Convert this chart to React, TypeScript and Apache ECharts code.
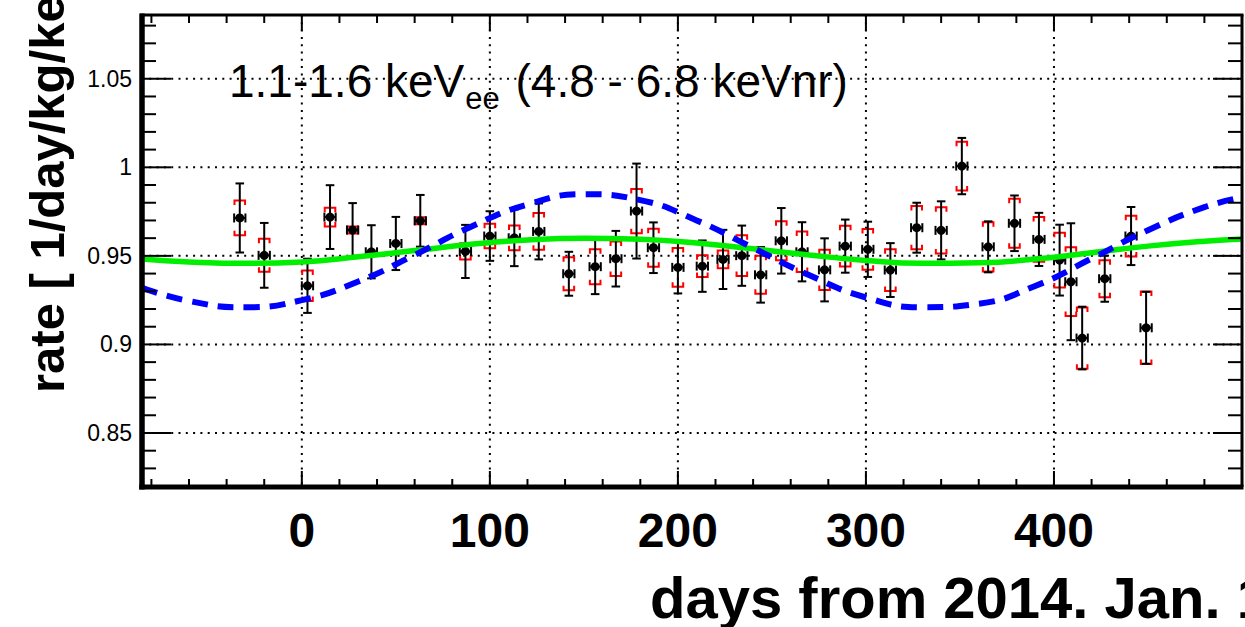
import React, { useEffect, useRef } from "react";
import * as echarts from "echarts";

// ---------- data ----------
const days = [-33, -20, 3, 15, 27, 37, 50, 63, 87, 100, 113, 126, 142, 156, 167, 178, 187, 200, 213, 224, 234, 244, 255, 266, 278, 289, 301, 313, 327, 340, 351, 365, 379, 392, 403, 409, 415, 427, 441, 449];
const rates = [0.9714, 0.9503, 0.9331, 0.9719, 0.9646, 0.9523, 0.957, 0.9698, 0.9525, 0.9612, 0.9602, 0.9638, 0.9399, 0.9439, 0.9484, 0.9753, 0.9546, 0.9435, 0.9442, 0.948, 0.9501, 0.9393, 0.9585, 0.9523, 0.9421, 0.9555, 0.9537, 0.942, 0.9659, 0.9644, 1.0007, 0.9551, 0.9684, 0.9593, 0.9476, 0.9354, 0.9036, 0.9371, 0.9612, 0.9094];
const statErr = [0.0195, 0.0183, 0.0153, 0.018, 0.0152, 0.015, 0.015, 0.0146, 0.015, 0.014, 0.016, 0.0158, 0.0124, 0.0155, 0.0157, 0.0268, 0.0143, 0.0147, 0.0145, 0.0167, 0.017, 0.0157, 0.0185, 0.0167, 0.0178, 0.015, 0.0156, 0.0152, 0.0141, 0.0164, 0.0159, 0.0144, 0.0157, 0.015, 0.02, 0.033, 0.0177, 0.013, 0.0164, 0.0203];
const systErr = [0.0098, 0.0093, 0.0086, 0.0053, 0.002, 0, 0, 0.002, 0.0046, 0.0069, 0.007, 0.0104, 0.0093, 0.0099, 0.0097, 0.0125, 0.0107, 0.011, 0.0062, 0.005, 0.0115, 0.0107, 0.011, 0.0114, 0.0113, 0.0115, 0.0115, 0.0118, 0.0122, 0.0131, 0.0138, 0.0139, 0.0138, 0.0126, 0.0155, 0.0194, 0.0173, 0.0104, 0.0115, 0.0205];
const dayErr = 3;

const fitDays = [-85, -60, -30, 0, 30, 60, 90, 120, 150, 180, 210, 240, 270, 300, 330, 360, 390, 420, 450, 480, 500];
const greenFit = [0.9482, 0.9466, 0.9458, 0.9466, 0.9495, 0.953, 0.9565, 0.959, 0.96, 0.9594, 0.9573, 0.954, 0.9505, 0.9474, 0.9458, 0.9461, 0.9482, 0.9518, 0.9555, 0.9583, 0.9595];
const blueFit = [0.932, 0.9245, 0.921, 0.925, 0.9355, 0.9505, 0.9665, 0.979, 0.9848, 0.9815, 0.97, 0.9545, 0.939, 0.9265, 0.921, 0.923, 0.933, 0.9485, 0.9645, 0.9775, 0.983];

const xMajorTicks = [0, 100, 200, 300, 400];
const xTickLabels = ["0", "100", "200", "300", "400"];
const xMinorTicks = [-80, -60, -40, -20, 20, 40, 60, 80, 120, 140, 160, 180, 220, 240, 260, 280, 320, 340, 360, 380, 420, 440, 460, 480];
const yMajorTicks = [0.85, 0.9, 0.95, 1, 1.05];
const yTickLabels = ["0.85", "0.9", "0.95", "1", "1.05"];
const yMinorTicks = [0.83, 0.84, 0.86, 0.87, 0.88, 0.89, 0.91, 0.92, 0.93, 0.94, 0.96, 0.97, 0.98, 0.99, 1.01, 1.02, 1.03, 1.04, 1.06, 1.07, 1.08];

const X_MIN = -85;
const X_MAX = 500;
const Y_MIN = 0.8195;
const Y_MAX = 1.086;

const xTitle = "days from 2014. Jan. 1";
const yTitle = "rate [ 1/day/kg/keV ]";
const noteMain = "1.1-1.6 keV";
const noteSub = "ee";
const noteTail = " (4.8 - 6.8 keVnr)";

const FONT = '"Liberation Sans", Arial, Helvetica, sans-serif';

function measure(text: string, font: string): number {
  const c = document.createElement("canvas").getContext("2d");
  if (!c) return text.length * 20;
  c.font = font;
  return c.measureText(text).width;
}

function renderGrid(params: any, api: any) {
  const cs = params.coordSys;
  const top = cs.y, bottom = cs.y + cs.height, left = cs.x, right = cs.x + cs.width;
  const dot = { stroke: "#000", lineWidth: 2, lineDash: [2, 5.3] };
  const children: any[] = [];
  xMajorTicks.forEach((v) => {
    const px = api.coord([v, Y_MIN])[0];
    children.push({ type: "line", shape: { x1: px, y1: top, x2: px, y2: bottom }, style: dot });
  });
  yMajorTicks.forEach((v) => {
    const py = api.coord([X_MIN, v])[1];
    children.push({ type: "line", shape: { x1: left, y1: py, x2: right, y2: py }, style: dot });
  });
  return { type: "group", children };
}

function renderFrame(params: any, api: any) {
  const cs = params.coordSys;
  const top = cs.y, bottom = cs.y + cs.height, left = cs.x, right = cs.x + cs.width;
  const tick = { stroke: "#000", lineWidth: 2 };
  const children: any[] = [];
  const yMajLen = 29, yMinLen = 14, xMajLen = 16, xMinLen = 8;
  xMajorTicks.forEach((v, i) => {
    const px = api.coord([v, Y_MIN])[0];
    children.push({ type: "line", shape: { x1: px, y1: bottom, x2: px, y2: bottom - xMajLen }, style: tick });
    children.push({ type: "line", shape: { x1: px, y1: top, x2: px, y2: top + xMajLen }, style: tick });
    children.push({
      type: "text",
      x: px,
      y: 530,
      style: { text: xTickLabels[i], font: `bold 48px ${FONT}`, fill: "#000", align: "center", verticalAlign: "middle", textAlign: "center", textVerticalAlign: "middle" },
    });
  });
  xMinorTicks.forEach((v) => {
    const px = api.coord([v, Y_MIN])[0];
    children.push({ type: "line", shape: { x1: px, y1: bottom, x2: px, y2: bottom - xMinLen }, style: tick });
    children.push({ type: "line", shape: { x1: px, y1: top, x2: px, y2: top + xMinLen }, style: tick });
  });
  yMajorTicks.forEach((v, i) => {
    const py = api.coord([X_MIN, v])[1];
    children.push({ type: "line", shape: { x1: left, y1: py, x2: left + yMajLen, y2: py }, style: tick });
    children.push({ type: "line", shape: { x1: right, y1: py, x2: right - yMajLen, y2: py }, style: tick });
    children.push({
      type: "text",
      x: 132,
      y: py,
      style: { text: yTickLabels[i], font: `23px ${FONT}`, fill: "#000", align: "right", verticalAlign: "middle", textAlign: "right", textVerticalAlign: "middle" },
    });
  });
  yMinorTicks.forEach((v) => {
    const py = api.coord([X_MIN, v])[1];
    children.push({ type: "line", shape: { x1: left, y1: py, x2: left + yMinLen, y2: py }, style: tick });
    children.push({ type: "line", shape: { x1: right, y1: py, x2: right - yMinLen, y2: py }, style: tick });
  });
  // frame
  children.push({ type: "line", shape: { x1: left - 2, y1: top, x2: right + 1.5, y2: top }, style: { stroke: "#000", lineWidth: 3 } });
  children.push({ type: "line", shape: { x1: right, y1: top, x2: right, y2: bottom }, style: { stroke: "#000", lineWidth: 3 } });
  children.push({ type: "line", shape: { x1: left - 2.75, y1: bottom, x2: right + 1.5, y2: bottom }, style: { stroke: "#000", lineWidth: 5 } });
  children.push({ type: "line", shape: { x1: left, y1: top - 1.5, x2: left, y2: bottom + 2.5 }, style: { stroke: "#000", lineWidth: 5.5 } });
  return { type: "group", children };
}

function renderPoint(params: any, api: any) {
  const x = api.value(0), y = api.value(1), st = api.value(2), sy = api.value(3);
  const c = api.coord([x, y]);
  const cx = c[0], cy = c[1];
  const children: any[] = [];
  if (sy > 0) {
    const t = api.coord([x, y + sy])[1];
    const b = api.coord([x, y - sy])[1];
    const w = 5.3, leg = 4.5;
    const red = { stroke: "#ff0000", lineWidth: 2, fill: "none" };
    children.push({ type: "polyline", shape: { points: [[cx - w, t + leg], [cx - w, t], [cx + w, t], [cx + w, t + leg]] }, style: red });
    children.push({ type: "polyline", shape: { points: [[cx - w, b - leg], [cx - w, b], [cx + w, b], [cx + w, b - leg]] }, style: red });
  }
  const blk = { stroke: "#000", lineWidth: 2 };
  const t = api.coord([x, y + st])[1];
  const b = api.coord([x, y - st])[1];
  const xl = api.coord([x - dayErr, y])[0];
  const xr = api.coord([x + dayErr, y])[0];
  const cw = 4.3, ch = 4.5;
  children.push({ type: "line", shape: { x1: cx, y1: t, x2: cx, y2: b }, style: blk });
  children.push({ type: "line", shape: { x1: cx - cw, y1: t, x2: cx + cw, y2: t }, style: blk });
  children.push({ type: "line", shape: { x1: cx - cw, y1: b, x2: cx + cw, y2: b }, style: blk });
  children.push({ type: "line", shape: { x1: xl, y1: cy, x2: xr, y2: cy }, style: blk });
  children.push({ type: "line", shape: { x1: xl, y1: cy - ch, x2: xl, y2: cy + ch }, style: blk });
  children.push({ type: "line", shape: { x1: xr, y1: cy - ch, x2: xr, y2: cy + ch }, style: blk });
  children.push({ type: "circle", shape: { cx, cy, r: 4.5 }, style: { fill: "#000" } });
  return { type: "group", children };
}

export default function App() {
  const ref = useRef<HTMLDivElement>(null);
  useEffect(() => {
    if (!ref.current) return;
    const chart = echarts.init(ref.current, undefined, { renderer: "svg" });

    const mainFont = `46px ${FONT}`;
    const subFont = `31px ${FONT}`;
    const noteX = 229;
    const wMain = measure(noteMain, mainFont);
    const wSub = measure(noteSub, subFont);

    const pointData = days.map((d, i) => [d, rates[i], statErr[i], systErr[i]]);

    chart.setOption({
      animation: false,
      backgroundColor: "#ffffff",
      grid: { left: 142, top: 15, width: 1100, height: 472 },
      xAxis: { type: "value", min: X_MIN, max: X_MAX, show: false, splitLine: { show: false } },
      yAxis: { type: "value", min: Y_MIN, max: Y_MAX, show: false, splitLine: { show: false } },
      series: [
        { type: "custom", name: "grid", coordinateSystem: "cartesian2d", data: [[100, 0.9]], renderItem: renderGrid, silent: true, z: 1 },
        { type: "custom", name: "data", coordinateSystem: "cartesian2d", data: pointData, encode: { x: 0, y: 1 }, renderItem: renderPoint, silent: true, z: 2 },
        {
          type: "line",
          name: "green",
          data: fitDays.map((d, i) => [d, greenFit[i]]),
          smooth: 0.5,
          showSymbol: false,
          symbol: "none",
          lineStyle: { color: "#00ee00", width: 5.5 },
          silent: true,
          z: 3,
        },
        {
          type: "line",
          name: "blue",
          data: fitDays.map((d, i) => [d, blueFit[i]]),
          smooth: 0.5,
          showSymbol: false,
          symbol: "none",
          lineStyle: { color: "#0000ff", width: 6, type: [16, 10] },
          silent: true,
          z: 4,
        },
        { type: "custom", name: "frame", coordinateSystem: "cartesian2d", data: [[100, 0.9]], renderItem: renderFrame, silent: true, z: 5 },
      ],
      graphic: [
        {
          type: "text",
          x: noteX,
          y: 81,
          style: { text: noteMain, font: mainFont, fill: "#000", textAlign: "left", textVerticalAlign: "middle" },
        },
        {
          type: "text",
          x: noteX + wMain + 1,
          y: 98,
          style: { text: noteSub, font: subFont, fill: "#000", textAlign: "left", textVerticalAlign: "middle" },
        },
        {
          type: "text",
          x: noteX + wMain + wSub + 4,
          y: 81,
          style: { text: noteTail, font: mainFont, fill: "#000", textAlign: "left", textVerticalAlign: "middle" },
        },
        {
          type: "text",
          x: 650,
          y: 597,
          style: { text: xTitle, font: `bold 58px ${FONT}`, fill: "#000", textAlign: "left", textVerticalAlign: "middle" },
        },
        {
          type: "text",
          x: 47,
          y: 393,
          rotation: Math.PI / 2,
          style: { text: yTitle, font: `bold 49px ${FONT}`, fill: "#000", textAlign: "left", textVerticalAlign: "middle" },
        },
      ],
    });
    return () => chart.dispose();
  }, []);
  return <div ref={ref} style={{ position: "absolute", left: 0, top: 0, width: 1245, height: 627, background: "#fff" }} />;
}
